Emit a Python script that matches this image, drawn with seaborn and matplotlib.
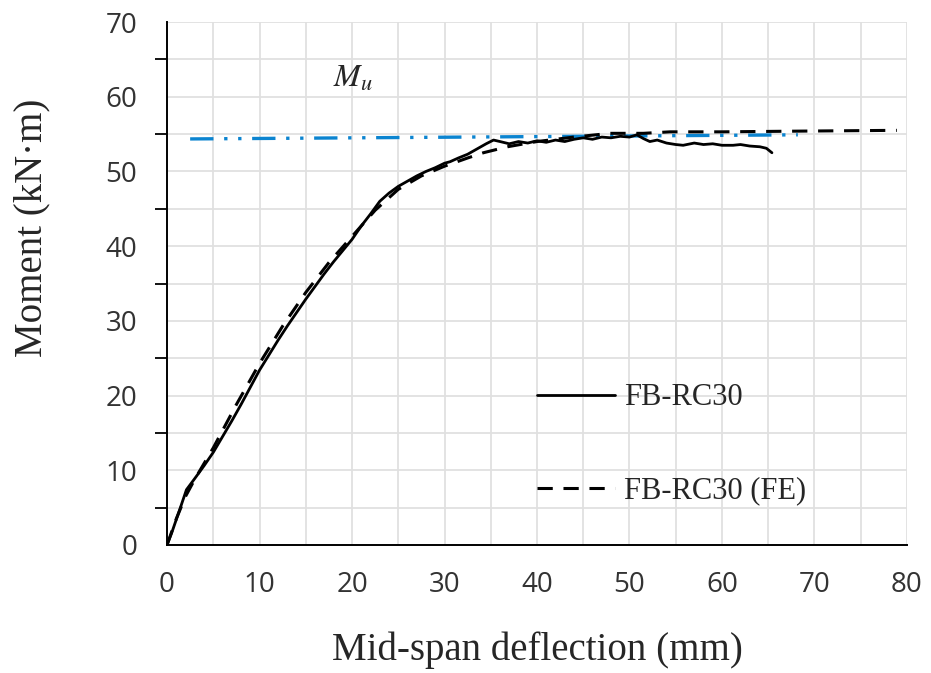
import numpy as np
import pandas as pd
import matplotlib.pyplot as plt
from matplotlib.ticker import MultipleLocator
import seaborn as sns

exp_x = [0, 0.5, 1, 1.5, 2.1, 3, 4, 5, 6, 7, 8, 9, 10, 11, 12, 13, 14, 15, 16, 17,
         18, 19, 20, 21, 22, 23, 24, 25, 26, 27, 28, 29, 30, 30.6, 31.5, 32.5, 33.5,
         34.5, 35.3, 36, 37, 38, 39, 40, 41, 42, 43, 44, 45, 46, 47, 48, 49, 50,
         50.8, 51.5, 52.2, 53, 54, 55, 55.8, 57, 58, 59, 60, 61.2, 62, 63, 64.1,
         64.8, 65.4]
exp_y = [0, 1.6, 3.4, 5.2, 7.4, 8.9, 10.6, 12.4, 14.5, 16.6, 18.8, 21.1, 23.4, 25.4,
         27.4, 29.3, 31.1, 32.9, 34.6, 36.3, 37.9, 39.4, 40.9, 42.7, 44.3, 46.0,
         47.1, 48.0, 48.7, 49.4, 50.0, 50.5, 51.1, 51.3, 51.8, 52.3, 53.0, 53.7,
         54.2, 54.0, 53.7, 54.0, 53.8, 54.1, 53.9, 54.2, 54.0, 54.3, 54.5, 54.3,
         54.6, 54.5, 54.7, 54.6, 54.9, 54.4, 54.0, 54.2, 53.8, 53.6, 53.5, 53.8,
         53.6, 53.7, 53.5, 53.5, 53.6, 53.4, 53.3, 53.1, 52.5]

# finite element curve FB-RC30 (FE)
fe_x = [0, 1, 2, 3, 5, 7.5, 10, 12.5, 15, 17.5, 20, 22.5, 25, 27.5, 30, 32.5, 34.2,
        36.8, 40, 44, 47.9, 51.5, 54.4, 60, 68.8, 78.9]
fe_y = [0, 3.5, 6.5, 8.8, 13.0, 18.8, 24.3, 29.3, 33.8, 37.8, 41.3, 44.8, 47.6,
        49.4, 50.7, 51.8, 52.5, 53.3, 54.0, 54.6, 55.1, 55.1, 55.3, 55.3, 55.4, 55.5]

# ultimate moment Mu
mu_x = [2.5, 68.2]
mu_y = [54.35, 54.9]

exp_df = pd.DataFrame({"x": exp_x, "y": exp_y})
fe_df = pd.DataFrame({"x": fe_x, "y": fe_y})
mu_df = pd.DataFrame({"x": mu_x, "y": mu_y})

sns.set_theme(style="white")
plt.rcParams["font.family"] = ["Open Sans", "DejaVu Sans"]
plt.rcParams["mathtext.fontset"] = "stix"

fig = plt.figure(figsize=(9.31, 6.73), dpi=100)
ax = fig.add_axes([0.1794, 0.1902, 0.7948, 0.7771])

sns.lineplot(data=mu_df, x="x", y="y", ax=ax, color="#0b84d0", lw=2.4,
             linestyle=(0, (7, 3.2, 1, 3.2, 1, 3.2)), sort=False, estimator=None,
             legend=False)
sns.lineplot(data=fe_df, x="x", y="y", ax=ax, color="black", lw=2.2,
             linestyle=(0, (5, 3.5)), sort=False, estimator=None,
             label="FB-RC30 (FE)")
sns.lineplot(data=exp_df, x="x", y="y", ax=ax, color="black", lw=2.0,
             sort=False, estimator=None, label="FB-RC30")

ax.set_xlim(0, 80)
ax.set_ylim(0, 70)
ax.xaxis.set_major_locator(MultipleLocator(10))
ax.xaxis.set_minor_locator(MultipleLocator(5))
ax.yaxis.set_major_locator(MultipleLocator(10))
ax.yaxis.set_minor_locator(MultipleLocator(5))
ax.grid(which="both", color="#e0e0e0", lw=1.3)
ax.set_axisbelow(True)

for s in ["top", "right"]:
    ax.spines[s].set_visible(False)
for s in ["left", "bottom"]:
    ax.spines[s].set_color("black")
    ax.spines[s].set_linewidth(1.4)

ax.tick_params(axis="both", which="major", direction="out", length=8.5, width=1.3,
               color="black", labelsize=20, labelcolor="#333333")
ax.tick_params(axis="y", which="major", pad=13)
ax.tick_params(axis="x", which="major", pad=10)
ax.tick_params(axis="y", which="minor", direction="out", length=8.5, width=1.3,
               color="black", left=True)
ax.tick_params(axis="x", which="minor", length=0)

ax.set_xlabel("Mid-span deflection (mm)", family="Liberation Serif", fontsize=28)
ax.xaxis.set_label_coords(0.5, -0.165)
ax.set_ylabel("Moment (kN·m)", family="Liberation Serif", fontsize=28)
ax.yaxis.set_label_coords(-0.158, 0.606)

ax.text(20.1, 62.5, r"$M_u$", fontsize=23, ha="center", va="center")

handles, labels = ax.get_legend_handles_labels()
order = [1, 0]
ax.legend([handles[i] for i in order], [labels[i] for i in order],
          loc="center left", bbox_to_anchor=(0.5, 0.192), frameon=False,
          borderpad=0, borderaxespad=0,
          handlelength=2.55, handletextpad=0.3, labelspacing=2.1,
          prop={"family": "Liberation Serif", "size": 22})

fig.savefig("out.png", dpi=100)
